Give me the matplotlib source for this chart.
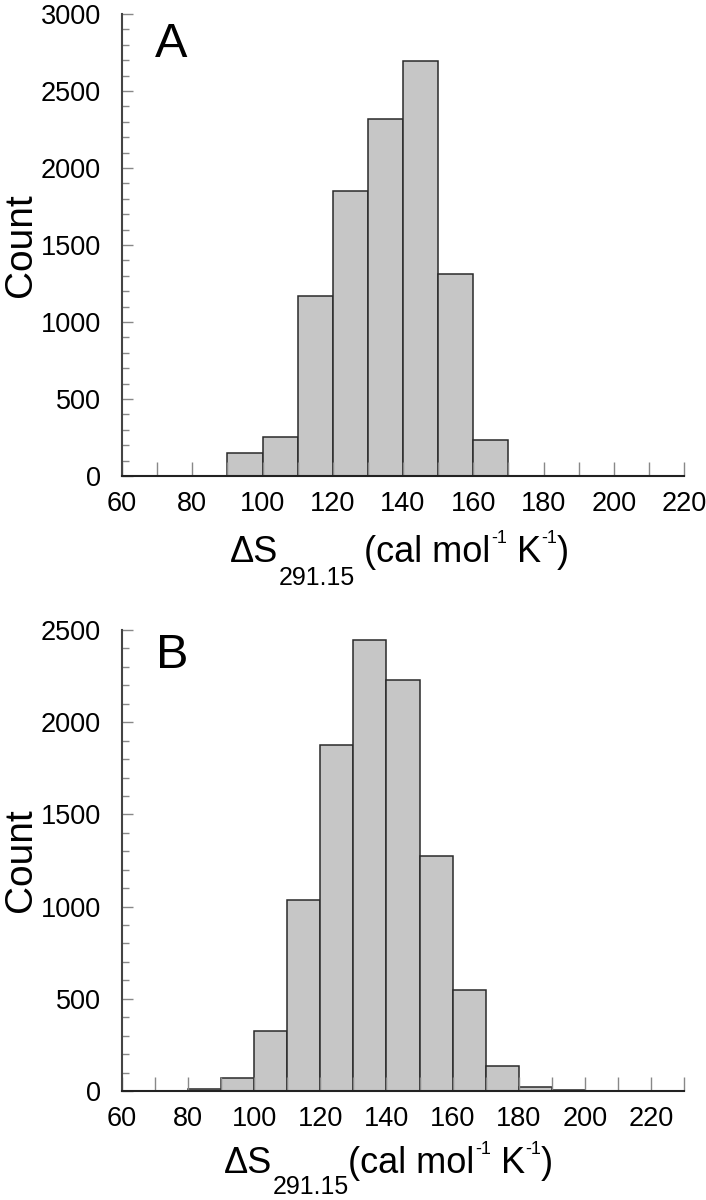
import matplotlib
matplotlib.use('Agg')
import matplotlib.pyplot as plt
from matplotlib.ticker import MultipleLocator
from matplotlib.transforms import IdentityTransform

plt.rcParams['font.family'] = ['Liberation Sans', 'DejaVu Sans']

# bin left edges (width 10) and counts
bins_a = [90, 100, 110, 120, 130, 140, 150, 160]
counts_a = [149, 255, 1170, 1853, 2319, 2693, 1309, 232]

bins_b = [80, 90, 100, 110, 120, 130, 140, 150, 160, 170, 180, 190]
counts_b = [10, 73, 328, 1034, 1877, 2444, 2228, 1277, 548, 137, 21, 4]

bin_width = 10

W, H = 706, 1200


def draw_panel(ax, bins, counts, xmax, ymax):
    ax.bar(bins, counts, width=bin_width, align='edge', color='#c6c6c6',
           edgecolor='#2a2a2a', linewidth=1.1)
    ax.set_xlim(60, xmax)
    ax.set_ylim(0, ymax)
    ax.spines['top'].set_visible(False)
    ax.spines['right'].set_visible(False)
    ax.spines['left'].set_linewidth(1.5)
    ax.spines['left'].set_color('#444444')
    ax.spines['bottom'].set_linewidth(1.5)
    ax.spines['bottom'].set_color('#222222')
    ax.xaxis.set_major_locator(MultipleLocator(20))
    ax.xaxis.set_minor_locator(MultipleLocator(10))
    ax.yaxis.set_major_locator(MultipleLocator(500))
    ax.yaxis.set_minor_locator(MultipleLocator(100))
    ax.tick_params(axis='x', which='both', direction='in', length=10,
                   width=1, color='#888888', labelsize=19.5, pad=11)
    ax.tick_params(axis='y', which='major', direction='in', length=8,
                   width=1, color='#888888', labelsize=19.5, pad=15)
    ax.tick_params(axis='y', which='minor', direction='in', length=5,
                   width=1, color='#888888')


def draw_xlabel(fig, renderer, x0, baseline, pieces):
    # pieces: (text, fontsize, vertical offset in pixels)
    x = x0
    for txt, size, dy in pieces:
        t = fig.text(x, baseline + dy, txt, fontsize=size, ha='left',
                     va='baseline', transform=IdentityTransform())
        x += t.get_window_extent(renderer).width


fig = plt.figure(figsize=(W / 100, H / 100), dpi=100)
ax_a = fig.add_axes([122 / W, 1 - 476 / H, 562 / W, 462 / H])
ax_b = fig.add_axes([122 / W, 1 - 1091 / H, 562 / W, 461 / H])

draw_panel(ax_a, bins_a, counts_a, 220, 3000)
draw_panel(ax_b, bins_b, counts_b, 230, 2500)

# panel letters
fig.text(155 / W, 1 - 57 / H, 'A', fontsize=35, va='baseline', ha='left')
fig.text(156 / W, 1 - 668 / H, 'B', fontsize=35, va='baseline', ha='left')

# y labels
fig.text(3 / W, 1 - 245 / H, 'Count', fontsize=28, rotation=90,
         va='center', ha='left')
fig.text(3 / W, 1 - 860 / H, 'Count', fontsize=28, rotation=90,
         va='center', ha='left')

renderer = fig.canvas.get_renderer()
main, sub, sup = 26, 18, 13
draw_xlabel(fig, renderer, 230, H - 562, [
    ('\u0394S', main, 0), ('291.15', sub, -23), (' (cal mol', main, 0),
    ('-1', sup, 19), (' K', main, 0), ('-1', sup, 19), (')', main, 0)])
draw_xlabel(fig, renderer, 224, H - 1173, [
    ('\u0394S', main, 0), ('291.15', sub, -21), ('(cal mol', main, 0),
    ('-1', sup, 19), (' K', main, 0), ('-1', sup, 19), (')', main, 0)])

fig.savefig('out.png', dpi=100)
